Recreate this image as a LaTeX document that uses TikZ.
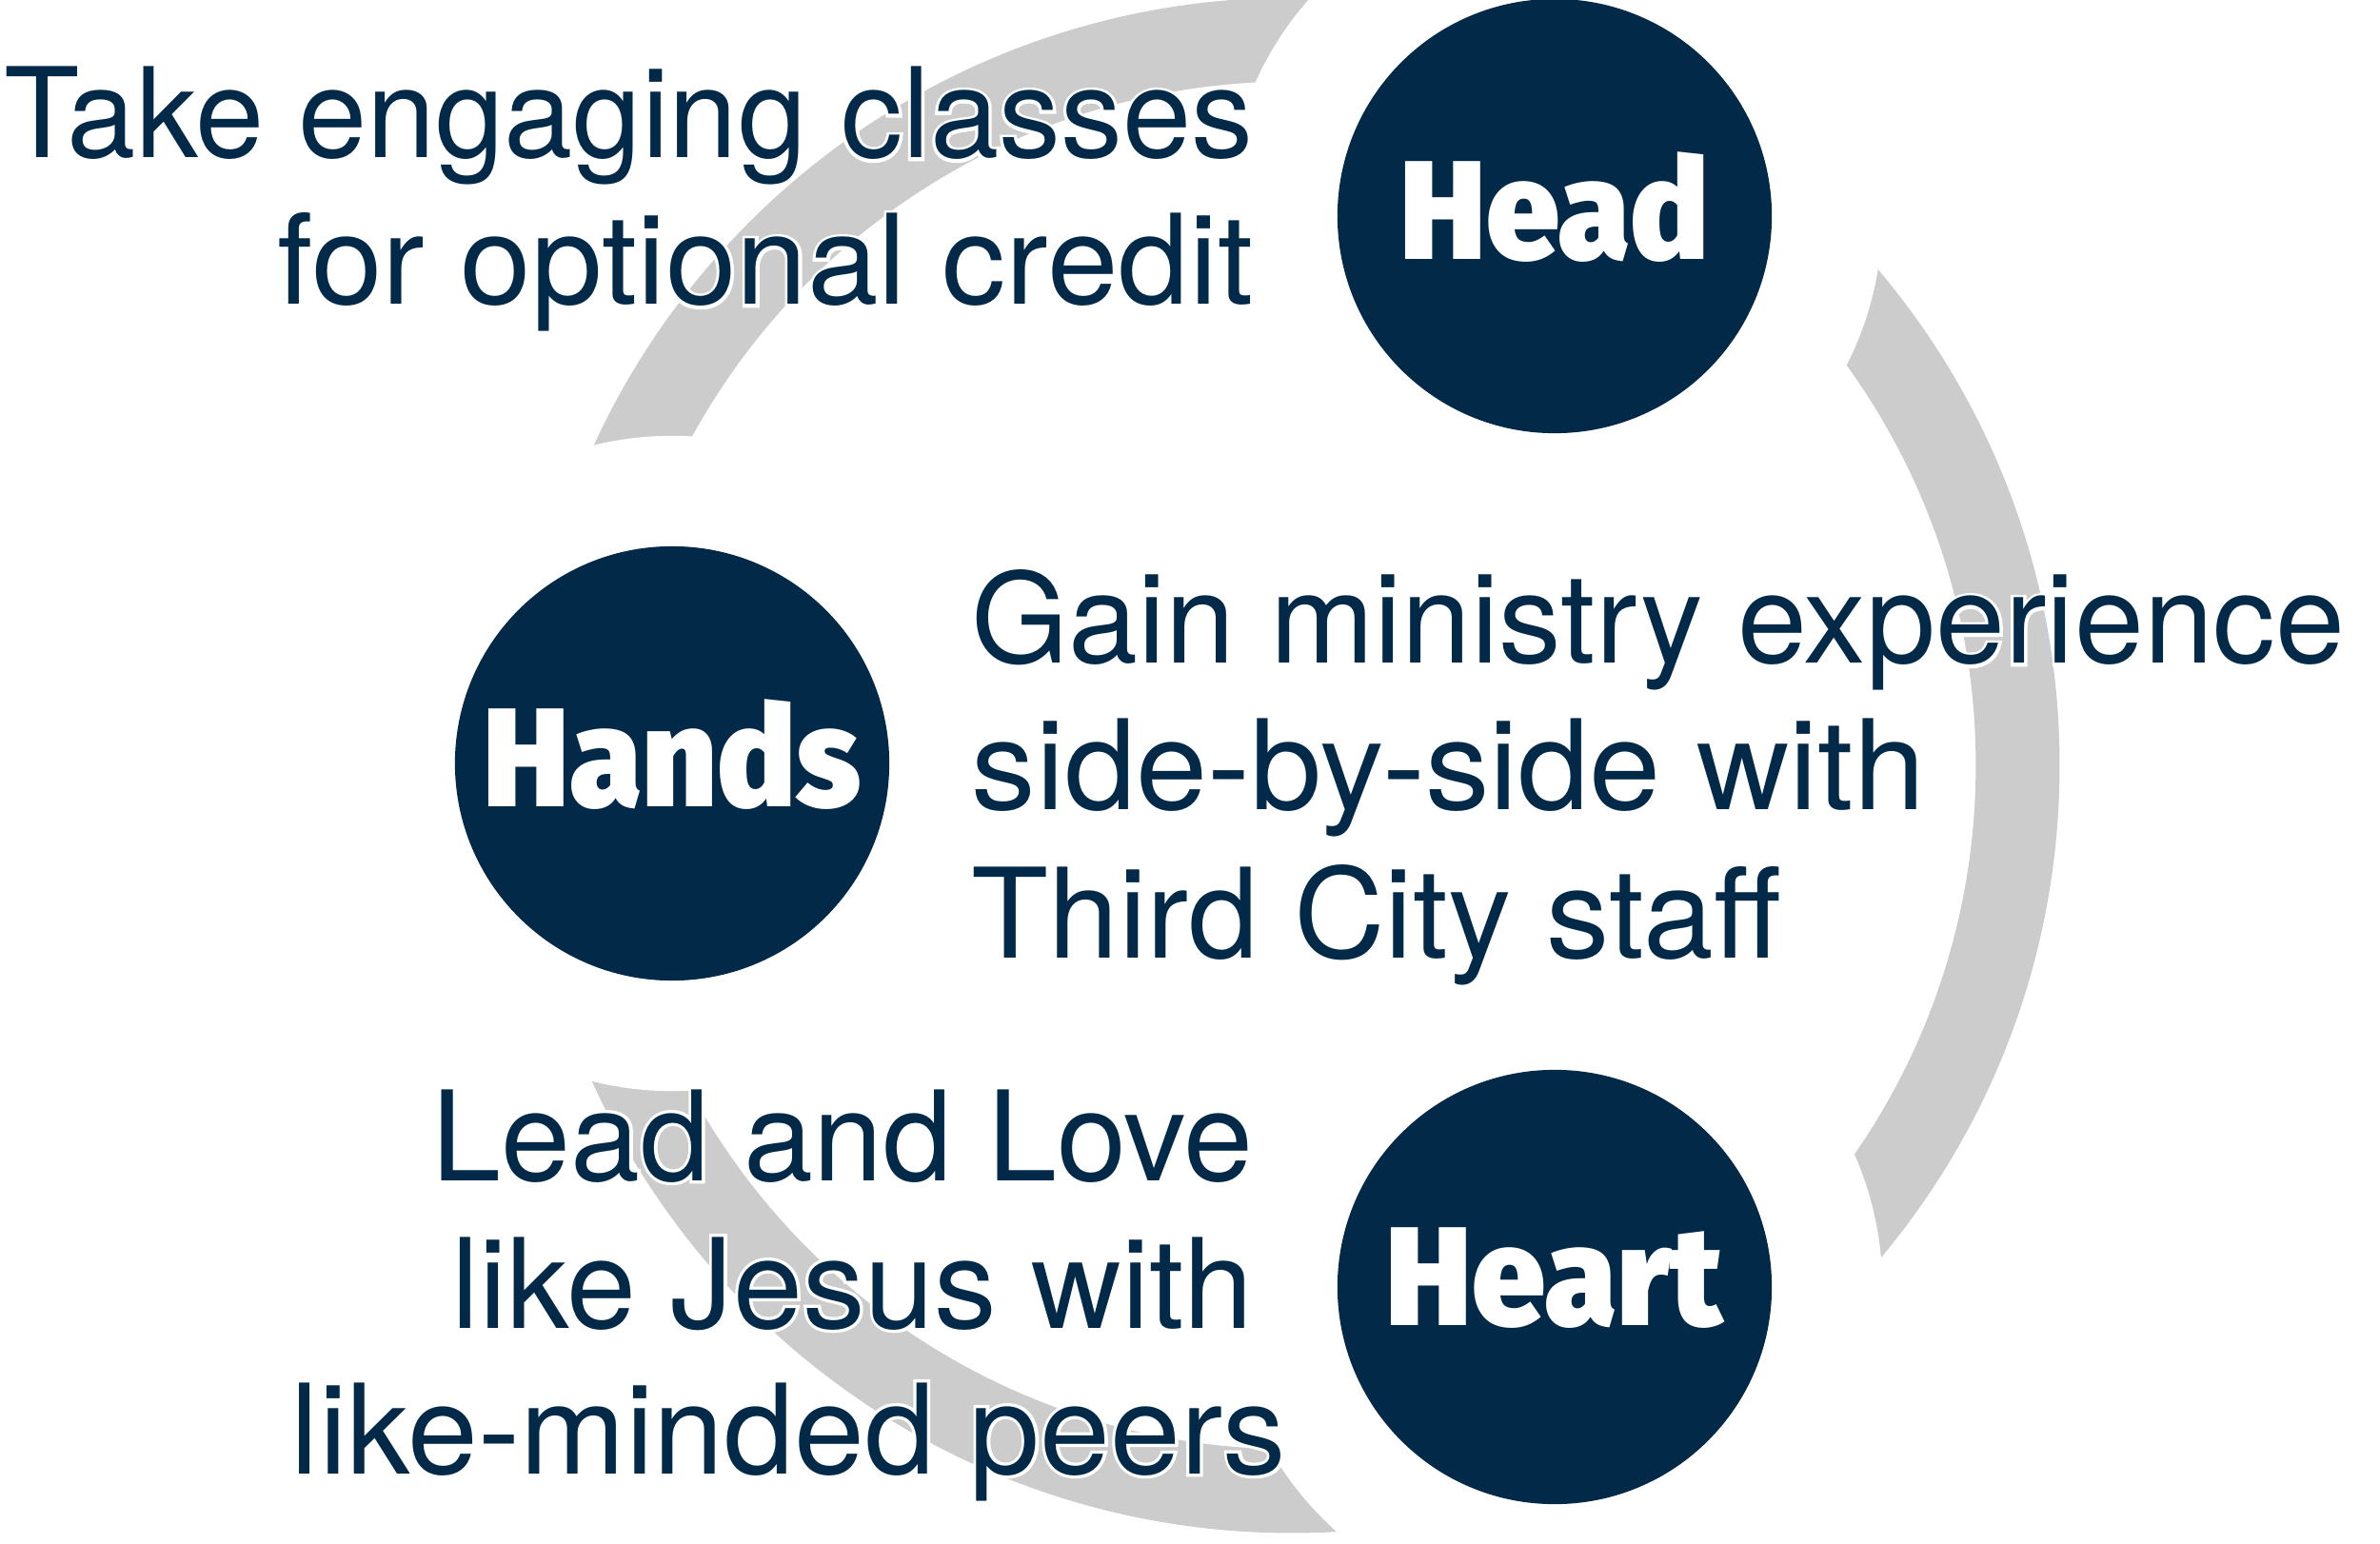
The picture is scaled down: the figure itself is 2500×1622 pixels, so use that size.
\documentclass[tikz,border=0pt]{standalone}
\usepackage{fontspec}
\setmainfont{TeX Gyre Heros}
\newfontfamily\halofont{TeX Gyre Heros}[FakeBold=5]
\newfontfamily\labfont{Fira Sans Black}
\definecolor{navy}{RGB}{2,41,72}
\definecolor{ringgray}{RGB}{204,204,204}
\newcommand\halotext[2][1]{\scalebox{#1}[1]{\makebox[0pt][l]{\textcolor{white}{\halofont #2}}#2}}
\tikzset{
  bodytext/.style={inner sep=0pt, text=navy, font=\fontsize{37.3pt}{44pt}\selectfont},
  bubble/.style={circle, fill=navy, minimum size=4.56cm, inner sep=0pt},
  bublabel/.style={inner sep=0pt, text=white, yshift=0.09cm,
    font=\labfont\fontsize{42pt}{48pt}\selectfont},
}
\begin{document}
\begin{tikzpicture}[x=0.01cm, y=-0.01cm]
\useasboundingbox (0,0) rectangle (2500,1622);
\coordinate (ringc) at (1357,804);
\coordinate (hc) at (1633,227);
\coordinate (hac) at (706,802);
\coordinate (hec) at (1633,1352);
% gray ring with gaps around the bubbles
\fill[ringgray, even odd rule] (ringc) circle[radius=8.06cm] (ringc) circle[radius=7.18cm];
\fill[white] (hc) circle[radius=3.44cm];
\fill[white] (hac) circle[radius=3.44cm];
\fill[white] (hec) circle[radius=3.44cm];
% bubbles
\node[bubble] (head) at (hc) {};
\node[bubble] (hands) at (hac) {};
\node[bubble] (heart) at (hec) {};
\node[bublabel] (headl) at (head.center) {\scalebox{0.935}[1]{Head}};
\node[bublabel] (handsl) at (hands.center) {\scalebox{0.935}[1]{Hands}};
\node[bublabel] (heartl) at (heart.center) {\scalebox{0.935}[1]{Heart}};
% texts
\node[bodytext, anchor=base east] (t1) at (1317,166) {\halotext[0.99]{Take engaging classes}};
\node[bodytext, anchor=base east] (t2) at (1317,320) {\halotext[1.022]{for optional credit}};
\node[bodytext, anchor=base west] (m1) at (1020,697) {\halotext{Gain ministry experience}};
\node[bodytext, anchor=base west] (m2) at (1020,850) {\halotext[1.03]{side-by-side with}};
\node[bodytext, anchor=base west] (m3) at (1020,1006) {\halotext[1.01]{Third City staff}};
\node[bodytext, anchor=base east] (b1) at (1317,1240) {\halotext{Lead and Love}};
\node[bodytext, anchor=base east] (b2) at (1317,1395) {\halotext{like Jesus with}};
\node[bodytext, anchor=base east] (b3) at (1352,1548) {\halotext[1.012]{like-minded peers}};
\end{tikzpicture}
\end{document}
